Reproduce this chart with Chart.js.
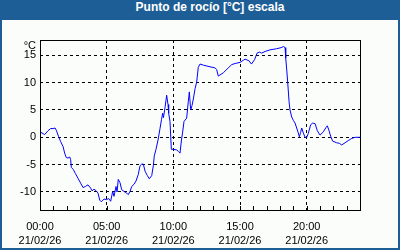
<!DOCTYPE html>
<html>
<head>
<meta charset="utf-8">
<script src="https://cdn.jsdelivr.net/npm/chart.js@4/dist/chart.umd.min.js"></script>
<style>
  html, body { margin: 0; padding: 0; background: #1e5e96; }
  #frame { position: relative; width: 400px; height: 250px; background: #1e5e96; overflow: hidden; }
  #title {
    position: absolute; left: 20px; top: 0; width: 380px; height: 20px; line-height: 20px;
    text-align: center; color: #fff; font: bold 12px "Liberation Sans", Arial, sans-serif;
  }
  #panel { position: absolute; left: 2px; top: 20px; width: 396px; height: 228px; background: #fbfdfb; }
  canvas { display: block; }
</style>
</head>
<body>
<div id="frame">
  <div id="title">Punto de rocío [°C] escala</div>
  <div id="panel"><canvas id="dewChart" width="396" height="228"></canvas></div>
</div>
<script>
// horas del día (decimal) y punto de rocío en °C
const hours = [
  0.0, 0.35, 0.6, 0.8, 0.98, 1.13, 1.22, 1.4, 1.55, 1.73, 1.85, 1.97, 2.1, 2.23, 2.3, 2.35,
  2.5, 2.65, 2.85, 3.05, 3.23, 3.4, 3.6, 3.8, 3.9, 4.05, 4.22, 4.35, 4.48, 4.6, 4.8, 5.0,
  5.15, 5.3, 5.45, 5.55, 5.7, 5.78, 5.87, 6.0, 6.13, 6.3, 6.5, 6.62, 6.75, 6.88, 7.05, 7.2,
  7.37, 7.5, 7.63, 7.75, 7.88, 8.05, 8.2, 8.38, 8.5, 8.57, 8.7, 8.85, 9.0, 9.11, 9.2, 9.26,
  9.38, 9.5, 9.6, 9.65, 9.75, 9.85, 10.0, 10.25, 10.39, 10.5, 10.61, 10.69, 10.8, 11.0, 11.12, 11.2,
  11.3, 11.4, 11.5, 11.63, 11.75, 11.87, 12.0, 12.25, 12.75, 13.13, 13.25, 13.37, 13.75, 14.12, 14.38, 14.63,
  15.0, 15.25, 15.38, 15.67, 15.86, 16.09, 16.28, 16.45, 16.63, 16.88, 17.25, 17.75, 18.08, 18.26, 18.38, 18.43,
  18.5, 18.58, 18.68, 18.75, 18.88, 19.0, 19.13, 19.25, 19.37, 19.45, 19.55, 19.63, 19.75, 19.88, 19.99, 20.12,
  20.3, 20.45, 20.63, 20.8, 21.0, 21.25, 21.45, 21.55, 21.68, 21.8, 21.95, 22.25, 22.45, 22.63, 22.88, 23.12,
  23.38, 23.63, 24.0
];
const dewPoint = [
  1.0, 0.5, 1.2, 1.6, 1.6, 1.7, 1.3, 0.1, -0.8, -1.7, -2.9, -3.7, -3.8, -3.6, -4.1, -5.5,
  -5.9, -6.6, -7.5, -8.4, -9.2, -9.0, -8.7, -9.3, -9.8, -9.5, -9.8, -10.2, -11.5, -11.8, -11.3, -11.4,
  -11.2, -11.7, -9.9, -10.8, -9.0, -10.0, -7.7, -8.3, -9.6, -9.9, -10.2, -10.5, -9.9, -9.0, -8.6, -8.0,
  -6.8, -5.2, -4.9, -4.9, -6.2, -7.0, -7.6, -7.0, -5.2, -3.4, -2.2, -0.5, 1.6, 3.2, 4.4, 3.6,
  5.5, 7.7, 6.0, 4.4, 2.9, -2.2, -2.2, -2.3, -2.6, -2.9, -0.5, 0.8, 2.9, 3.5, 6.5, 8.3,
  5.0, 5.8, 7.0, 8.9, 10.1, 12.8, 13.4, 13.2, 12.9, 12.7, 12.4, 11.2, 11.8, 12.7, 13.3, 13.5,
  13.7, 14.1, 14.3, 14.0, 13.4, 14.2, 15.4, 15.6, 15.4, 15.7, 16.0, 16.2, 16.4, 16.6, 16.4, 14.5,
  12.5, 10.0, 6.5, 5.0, 3.7, 3.1, 2.6, 1.7, 0.8, 0.1, 0.9, 1.7, 0.8, 0.0, -0.1, 0.7,
  2.3, 2.6, 2.5, 1.2, 0.4, 1.0, 1.8, 2.1, 1.2, 0.2, -0.7, -1.0, -1.1, -1.4, -1.0, -0.6,
  -0.2, 0.0, 0.0
];
const hourLabels = ['00:00', '05:00', '10:00', '15:00', '20:00'];
const dateLabel = '21/02/26';
const yMin = -13.3;
const yMax = 17.8;

const tickFont = { family: '"Liberation Sans", Arial, sans-serif', size: 11 };

// marco, marcas interiores del eje X y unidad
const decorPlugin = {
  id: 'decor',
  afterDraw(chart) {
    const { ctx, chartArea: a } = chart;
    const xs = chart.scales.x;
    ctx.save();
    ctx.strokeStyle = '#000';
    ctx.lineWidth = 1;
    ctx.setLineDash([]);
    for (let h = 0; h <= 24; h++) {
      const px = Math.round(xs.getPixelForValue(h)) + 0.5;
      ctx.beginPath();
      ctx.moveTo(px, Math.round(a.bottom));
      ctx.lineTo(px, Math.round(a.bottom) - 4);
      ctx.stroke();
    }
    ctx.strokeRect(Math.round(a.left) + 0.5, Math.round(a.top) + 0.5,
      Math.round(a.right) - Math.round(a.left), Math.round(a.bottom) - Math.round(a.top));
    ctx.fillStyle = '#000';
    ctx.font = '11px "Liberation Sans", Arial, sans-serif';
    ctx.textAlign = 'right';
    ctx.textBaseline = 'middle';
    ctx.fillText('°C', a.left - 4, a.top + 6);
    ctx.restore();
  }
};

new Chart(document.getElementById('dewChart'), {
  type: 'line',
  data: {
    datasets: [{
      data: hours.map((h, i) => ({ x: h, y: dewPoint[i] })),
      borderColor: '#0000ff',
      borderWidth: 1,
      pointRadius: 0,
      tension: 0,
      fill: false
    }]
  },
  options: {
    responsive: false,
    animation: false,
    layout: { padding: { top: 20, right: 38, left: 0, bottom: 0 } },
    plugins: { legend: { display: false }, tooltip: { enabled: false } },
    scales: {
      x: {
        type: 'linear',
        min: 0,
        max: 24,
        afterFit: s => { s.height = 38; },
        ticks: {
          stepSize: 1,
          autoSkip: false,
          maxRotation: 0,
          padding: 10,
          color: '#000',
          font: { ...tickFont, lineHeight: 1.27 },
          callback: v => (v % 5 === 0 && v < 24) ? [hourLabels[v / 5], dateLabel] : ''
        },
        grid: {
          drawTicks: false,
          color: c => (c.tick && c.tick.value % 5 === 0 && c.tick.value > 0 && c.tick.value < 24) ? '#000' : 'rgba(0,0,0,0)'
        },
        border: { display: false, dash: [3, 3] }
      },
      y: {
        min: yMin,
        max: yMax,
        afterFit: s => { s.width = 38; },
        ticks: {
          stepSize: 5,
          includeBounds: false,
          padding: 4,
          color: '#000',
          font: tickFont
        },
        grid: { drawTicks: false, color: '#000' },
        border: { display: false, dash: [3, 3] }
      }
    }
  },
  plugins: [decorPlugin]
});
</script>
</body>
</html>
